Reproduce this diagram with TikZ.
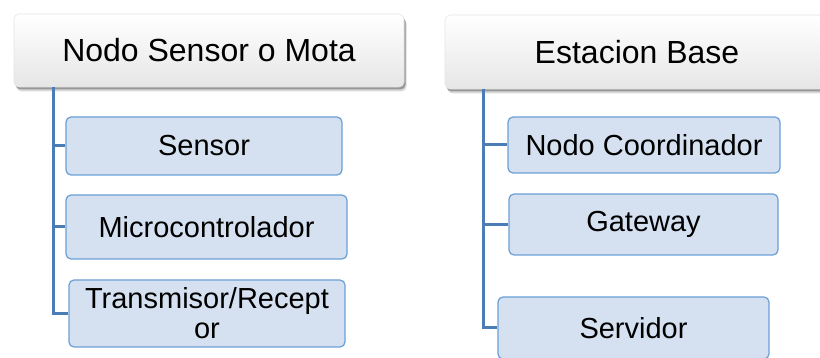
\documentclass[tikz,border=0pt]{standalone}
\usepackage{fontspec}
\setmainfont{Liberation Sans}
\usetikzlibrary{shadows,shadings}
\definecolor{boxfill}{HTML}{D5E1F0}
\definecolor{boxline}{HTML}{6A9FD6}
\definecolor{trunk}{HTML}{4A7DB5}
\definecolor{hdbot}{HTML}{E6E6E6}
\tikzset{
  header/.style={rectangle, rounded corners=5pt, draw=black!10, line width=0.6pt,
    top color=white, bottom color=hdbot,
    drop shadow={shadow xshift=2.5pt, shadow yshift=-4.5pt, opacity=0.15, fill=black},
    drop shadow={shadow xshift=1.5pt, shadow yshift=-2.5pt, opacity=0.3, fill=black},
    font=\fontsize{32}{34}\selectfont, inner sep=0pt, align=center},
  child/.style={rectangle, rounded corners=5pt, draw=boxline, line width=1.2pt,
    fill=boxfill, font=\fontsize{29}{30}\selectfont, inner sep=0pt, align=center},
  conn/.style={draw=trunk, line width=3pt}
}
\begin{document}
\begin{tikzpicture}[x=1pt,y=-1pt]
\useasboundingbox (0,0) rectangle (820,358);
\clip (0,0) rectangle (820,358);
% headers
\node[header, minimum width=390pt, minimum height=73pt] (lh) at (209,50.5) {Nodo Sensor o Mota};
\node[header, minimum width=384pt, minimum height=74pt] (rh) at (637,52) {Estacion Base};
% trunk anchors
\coordinate (tl) at (53.5,87);
\coordinate (tr) at (483,89);
% children
\node[child, minimum width=276pt, minimum height=58pt] (sensor) at (204,146) {Sensor};
\node[child, minimum width=281pt, minimum height=64pt] (micro) at (206.5,227) {Microcontrolador};
\node[child, minimum width=276pt, minimum height=67pt] (trans) at (207,313.5) {Transmisor/Recept\\or};
\node[child, minimum width=272pt, minimum height=56pt] (coord) at (644,145) {Nodo Coordinador};
\node[child, minimum width=269pt, minimum height=61pt] (gate) at (643.5,224.5) {Gateway};
\node[child, minimum width=271pt, minimum height=62pt] (serv) at (633.5,328) {Servidor};
% connectors
\draw[conn] (tl) |- (sensor.west);
\draw[conn] (tl) |- (micro.west);
\draw[conn] (tl) |- (trans.west);
\draw[conn] (tr) |- (coord.west);
\draw[conn] (tr) |- (gate.west);
\draw[conn] (tr) |- (serv.west);
\end{tikzpicture}
\end{document}
